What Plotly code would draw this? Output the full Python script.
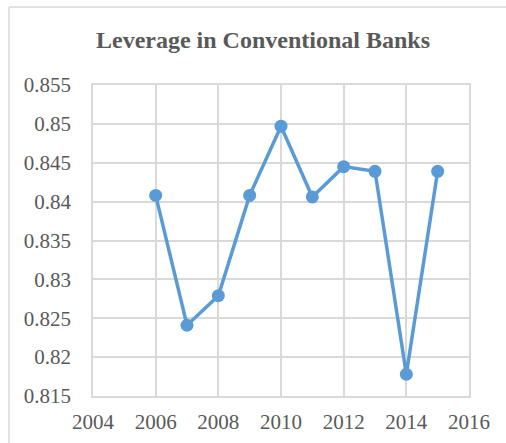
import plotly.graph_objects as go

years = [2006, 2007, 2008, 2009, 2010, 2011, 2012, 2013, 2014, 2015]
leverage = [0.8408, 0.8241, 0.8279, 0.8408, 0.8497, 0.8406, 0.8445, 0.8439, 0.8178, 0.8439]
title_text = "Leverage in Conventional Banks"

W, H = 506, 443
L, R, T, B = 93, 37, 85, 47
pw, ph = W - L - R, H - T - B

def px(x):
    return (x - L) / pw

def py(y):
    return (H - B - y) / ph

fig = go.Figure()
fig.add_trace(go.Scatter(
    x=years, y=leverage, mode="lines+markers",
    line=dict(color="#5b9bd5", width=3.5),
    marker=dict(color="#5b9bd5", size=13),
    showlegend=False,
))

font_family = "Times New Roman, Liberation Serif, serif"
fig.update_layout(
    width=W, height=H,
    margin=dict(l=L, r=R, t=T, b=B, autoexpand=False),
    paper_bgcolor="white", plot_bgcolor="white",
    font=dict(family=font_family),
    title=dict(text="<b>" + title_text + "</b>", xref="paper", x=px(263), xanchor="center",
               yref="container", y=1 - 40 / H, yanchor="middle",
               font=dict(family=font_family, size=24, color="#595959")),
    xaxis=dict(range=[2004, 2016], tickvals=[2004, 2006, 2008, 2010, 2012, 2014, 2016],
               showgrid=True, gridcolor="#d9d9d9", gridwidth=1.5,
               showline=True, linecolor="#d9d9d9", linewidth=1.5, mirror=True,
               zeroline=False, ticks="", ticklabelstandoff=6, automargin=False,
               tickfont=dict(family=font_family, size=21, color="#595959")),
    yaxis=dict(range=[0.815, 0.855], dtick=0.005, tickformat="~g",
               showgrid=True, gridcolor="#d9d9d9", gridwidth=1.5,
               showline=True, linecolor="#d9d9d9", linewidth=1.5, mirror=True,
               zeroline=False, ticks="", ticklabelstandoff=16, automargin=False,
               tickfont=dict(family=font_family, size=21, color="#595959")),
    shapes=[
        dict(type="line", xref="paper", yref="paper", x0=px(9), x1=px(W + 5),
             y0=py(7), y1=py(7), line=dict(color="#d9d9d9", width=1.5)),
        dict(type="line", xref="paper", yref="paper", x0=px(9), x1=px(9),
             y0=py(7), y1=py(H + 5), line=dict(color="#d9d9d9", width=1.5)),
    ],
)
fig.write_html("out.html")
